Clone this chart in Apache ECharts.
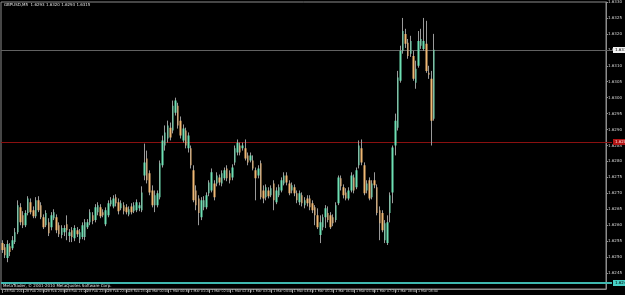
<!DOCTYPE html>
<html><head><meta charset="utf-8">
<script src="https://cdn.jsdelivr.net/npm/echarts@6/dist/echarts.min.js"></script>
<style>html,body{margin:0;padding:0;background:#000;overflow:hidden}#c{width:625px;height:295px}</style>
</head><body><div id="c"></div>
<script>
const headerText = 'GBPUSD,M5  1.6293 1.6320 1.6293 1.6315';
const copyrightText = 'MetaTrader, \u00a9 2001-2010 MetaQuotes Software Corp.';
const tickLabels = ['28 Feb 2011','28 Feb 20:00','28 Feb 20:40','28 Feb 21:20','28 Feb 22:00','28 Feb 22:40','28 Feb 23:20','1 Mar 00:00','1 Mar 00:40','1 Mar 01:20','1 Mar 02:00','1 Mar 02:40','1 Mar 03:20','1 Mar 04:00','1 Mar 04:40','1 Mar 05:20','1 Mar 06:00','1 Mar 06:40','1 Mar 07:20','1 Mar 08:00','1 Mar 08:40'];
const barsPerLabel = 8;
const slotCount = 234;
// [open, close, low, high]
const ohlc = [
[1.62544,1.62522,1.62513,1.62553],[1.62531,1.62506,1.62497,1.62541],[1.62497,1.62541,1.62484,1.62553],[1.62534,1.62516,1.62503,1.62544],
[1.62528,1.62553,1.62522,1.62566],[1.62547,1.62578,1.62541,1.62591],[1.62578,1.62663,1.62572,1.62678],[1.62656,1.62609,1.62600,1.62669],
[1.62631,1.62600,1.62591,1.62644],[1.62600,1.62638,1.62594,1.62647],[1.62638,1.62684,1.62631,1.62691],[1.62672,1.62641,1.62634,1.62684],
[1.62647,1.62628,1.62622,1.62659],[1.62628,1.62678,1.62622,1.62688],[1.62678,1.62647,1.62641,1.62691],[1.62663,1.62625,1.62619,1.62672],
[1.62625,1.62594,1.62588,1.62634],[1.62600,1.62638,1.62594,1.62647],[1.62609,1.62575,1.62566,1.62622],[1.62594,1.62631,1.62584,1.62641],
[1.62622,1.62641,1.62616,1.62650],[1.62625,1.62584,1.62575,1.62634],[1.62600,1.62572,1.62563,1.62609],[1.62569,1.62591,1.62559,1.62600],
[1.62578,1.62591,1.62566,1.62600],[1.62603,1.62584,1.62553,1.62631],[1.62566,1.62578,1.62547,1.62588],[1.62584,1.62563,1.62547,1.62594],
[1.62559,1.62591,1.62550,1.62600],[1.62584,1.62572,1.62563,1.62594],[1.62556,1.62578,1.62544,1.62588],[1.62563,1.62600,1.62556,1.62609],
[1.62563,1.62609,1.62553,1.62619],[1.62594,1.62609,1.62588,1.62619],[1.62609,1.62641,1.62600,1.62650],[1.62631,1.62613,1.62603,1.62641],
[1.62616,1.62656,1.62609,1.62666],[1.62641,1.62663,1.62631,1.62672],[1.62656,1.62628,1.62622,1.62666],[1.62641,1.62631,1.62625,1.62650],
[1.62603,1.62647,1.62597,1.62656],[1.62631,1.62669,1.62625,1.62678],[1.62666,1.62678,1.62659,1.62688],[1.62659,1.62684,1.62653,1.62694],
[1.62688,1.62669,1.62659,1.62697],[1.62672,1.62644,1.62634,1.62684],[1.62653,1.62669,1.62647,1.62678],[1.62663,1.62644,1.62634,1.62672],
[1.62656,1.62641,1.62634,1.62666],[1.62634,1.62650,1.62628,1.62659],[1.62659,1.62641,1.62634,1.62669],[1.62644,1.62663,1.62638,1.62672],
[1.62647,1.62672,1.62641,1.62681],[1.62653,1.62663,1.62644,1.62672],[1.62647,1.62703,1.62641,1.62722],[1.62756,1.62797,1.62741,1.62856],
[1.62809,1.62741,1.62731,1.62834],[1.62763,1.62703,1.62694,1.62772],[1.62709,1.62663,1.62656,1.62725],[1.62663,1.62694,1.62641,1.62709],
[1.62663,1.62700,1.62656,1.62709],[1.62688,1.62794,1.62681,1.62803],[1.62788,1.62866,1.62781,1.62881],[1.62850,1.62891,1.62834,1.62913],
[1.62872,1.62913,1.62859,1.62928],[1.62906,1.62875,1.62866,1.62922],[1.62897,1.62975,1.62888,1.62991],[1.62953,1.62991,1.62944,1.63000],
[1.62975,1.62913,1.62903,1.62984],[1.62928,1.62881,1.62872,1.62941],[1.62866,1.62903,1.62859,1.62916],[1.62897,1.62850,1.62841,1.62906],
[1.62841,1.62881,1.62828,1.62891],[1.62841,1.62788,1.62778,1.62850],[1.62772,1.62678,1.62672,1.62788],[1.62709,1.62663,1.62647,1.62725],
[1.62684,1.62638,1.62600,1.62694],[1.62625,1.62678,1.62616,1.62688],[1.62656,1.62678,1.62647,1.62691],[1.62656,1.62694,1.62650,1.62703],
[1.62700,1.62734,1.62691,1.62741],[1.62709,1.62766,1.62703,1.62778],[1.62731,1.62688,1.62678,1.62741],[1.62731,1.62756,1.62722,1.62766],
[1.62750,1.62734,1.62725,1.62759],[1.62731,1.62763,1.62722,1.62772],[1.62747,1.62772,1.62741,1.62781],[1.62778,1.62747,1.62738,1.62788],
[1.62763,1.62741,1.62731,1.62772],[1.62750,1.62781,1.62741,1.62791],[1.62797,1.62841,1.62788,1.62850],[1.62828,1.62859,1.62819,1.62869],
[1.62850,1.62828,1.62819,1.62859],[1.62841,1.62850,1.62834,1.62859],[1.62841,1.62809,1.62803,1.62869],[1.62819,1.62797,1.62788,1.62828],
[1.62803,1.62819,1.62797,1.62828],[1.62803,1.62778,1.62772,1.62819],[1.62772,1.62747,1.62678,1.62781],[1.62756,1.62778,1.62747,1.62788],
[1.62794,1.62688,1.62681,1.62803],[1.62709,1.62684,1.62669,1.62725],[1.62688,1.62719,1.62678,1.62728],[1.62709,1.62691,1.62684,1.62719],
[1.62694,1.62716,1.62688,1.62725],[1.62731,1.62678,1.62647,1.62741],[1.62672,1.62709,1.62666,1.62719],[1.62694,1.62719,1.62688,1.62728],
[1.62709,1.62741,1.62703,1.62750],[1.62731,1.62756,1.62725,1.62766],[1.62756,1.62734,1.62725,1.62766],[1.62731,1.62700,1.62694,1.62741],
[1.62709,1.62725,1.62700,1.62734],[1.62719,1.62700,1.62691,1.62728],[1.62700,1.62678,1.62669,1.62709],[1.62672,1.62700,1.62663,1.62709],
[1.62694,1.62669,1.62659,1.62703],[1.62663,1.62678,1.62653,1.62688],[1.62684,1.62669,1.62659,1.62694],[1.62684,1.62656,1.62647,1.62694],
[1.62669,1.62647,1.62638,1.62678],[1.62656,1.62631,1.62600,1.62663],[1.62631,1.62594,1.62588,1.62653],[1.62569,1.62609,1.62544,1.62631],
[1.62594,1.62625,1.62584,1.62634],[1.62625,1.62653,1.62591,1.62663],[1.62638,1.62616,1.62609,1.62659],[1.62631,1.62594,1.62588,1.62641],
[1.62625,1.62606,1.62597,1.62634],[1.62616,1.62663,1.62609,1.62672],[1.62669,1.62750,1.62663,1.62756],[1.62747,1.62722,1.62709,1.62756],
[1.62719,1.62694,1.62684,1.62728],[1.62703,1.62684,1.62678,1.62716],[1.62684,1.62709,1.62678,1.62719],[1.62709,1.62756,1.62703,1.62766],
[1.62750,1.62709,1.62700,1.62759],[1.62719,1.62772,1.62713,1.62781],[1.62788,1.62850,1.62778,1.62866],[1.62841,1.62797,1.62788,1.62869],
[1.62788,1.62700,1.62694,1.62797],[1.62709,1.62731,1.62700,1.62741],[1.62741,1.62684,1.62678,1.62750],[1.62688,1.62731,1.62681,1.62741],
[1.62741,1.62725,1.62716,1.62766],[1.62719,1.62638,1.62631,1.62728],[1.62647,1.62606,1.62553,1.62659],[1.62638,1.62584,1.62578,1.62647],
[1.62553,1.62606,1.62544,1.62616],[1.62544,1.62609,1.62538,1.62631],[1.62638,1.62694,1.62609,1.62703],[1.62703,1.62844,1.62669,1.62850],
[1.62850,1.62928,1.62819,1.62950],[1.62906,1.63063,1.62897,1.63084],[1.63053,1.63147,1.63047,1.63163],[1.63147,1.63209,1.63138,1.63250],
[1.63200,1.63169,1.63156,1.63216],[1.63172,1.63131,1.63122,1.63184],[1.63138,1.63178,1.63128,1.63194],[1.63131,1.63059,1.63053,1.63147],
[1.63047,1.63091,1.63028,1.63116],[1.63100,1.63178,1.63094,1.63209],[1.63163,1.63184,1.63153,1.63216],[1.63153,1.63178,1.63147,1.63250],
[1.63169,1.63084,1.63078,1.63241],[1.63078,1.63072,1.63059,1.63100],[1.63059,1.62928,1.62850,1.63084],[1.62934,1.63150,1.62928,1.63200]
];
const levelValues = [1.6315, 1.6286, 1.6242];
const yMin = 1.6240, yMax = 1.6330, yStep = 0.0005;

const categories = [];
for (let i = 0; i < slotCount; i++) categories.push(String(i));

const bullColor = '#6ee0b4';
const bearColor = '#efb874';
const wickColor = '#9a9a9a';
const frameColor = '#8c8c8c';
const fontFam = 'Tahoma, "DejaVu Sans", sans-serif';
const levelStyles = [
  {line: '#626262', h: 1, bg: '#f2f2f2', fg: '#000'},
  {line: '#8a1010', h: 1, bg: '#b01414', fg: '#ffd8d8'},
  {line: '#3fb8b0', h: 2, bg: '#48d0c6', fg: '#000'}
];
const gridBox = {left: 1, right: 13, top: 1, bottom: 6};

const chart = echarts.init(document.getElementById('c'), null, {renderer: 'canvas'});
chart.setOption({
  animation: false,
  backgroundColor: '#000',
  grid: Object.assign({show: true, borderColor: frameColor, borderWidth: 1, backgroundColor: '#000'}, gridBox),
  xAxis: {
    type: 'category', data: categories, boundaryGap: true,
    axisLine: {show: true, lineStyle: {color: frameColor, width: 1}},
    axisTick: {show: true, alignWithLabel: true, length: 4, lineStyle: {color: frameColor},
      interval: (idx) => idx % barsPerLabel === 0 && idx / barsPerLabel < tickLabels.length},
    axisLabel: {show: true, align: 'left', margin: 1, padding: [0, 0, 0, 2], color: '#d8d8d8', fontSize: 3.3, fontFamily: fontFam,
      hideOverlap: false,
      interval: (idx) => idx % barsPerLabel === 0 && idx / barsPerLabel < tickLabels.length,
      formatter: (v, idx) => tickLabels[idx / barsPerLabel] || ''},
    splitLine: {show: false}
  },
  yAxis: {
    type: 'value', position: 'right', min: yMin, max: yMax, interval: yStep,
    axisLine: {show: true, lineStyle: {color: frameColor}},
    axisTick: {show: true, length: 2, lineStyle: {color: frameColor}},
    axisLabel: {show: true, margin: 2, color: '#d8d8d8', fontSize: 4, fontFamily: fontFam, showMinLabel: false,
      formatter: v => v.toFixed(4)},
    splitLine: {show: false}
  },
  series: [
    {
      type: 'candlestick', name: 'wick', data: ohlc, barWidth: 1, z: 3,
      itemStyle: {color: wickColor, color0: wickColor, borderColor: wickColor, borderColor0: wickColor, borderWidth: 1},
      silent: true
    },
    {
      type: 'candlestick', name: 'body', data: ohlc, barWidth: 2, z: 4,
      itemStyle: {color: bullColor, color0: bearColor, borderColor: bullColor, borderColor0: bearColor, borderWidth: 0},
      silent: true
    }
  ]
});

// horizontal level lines, positioned through the y axis scale
const W = chart.getWidth();
const x0 = gridBox.left, x1 = W - gridBox.right;
const gfx = [
  {type: 'text', left: 4, top: 3, z: 10, style: {text: headerText, fill: '#e0e0e0', fontSize: 4, fontFamily: fontFam}},
  {type: 'text', left: 3, top: 284, z: 10, style: {text: copyrightText, fill: '#e0e0e0', fontSize: 4, fontFamily: fontFam}}
];
levelValues.forEach((v, k) => {
  const y = Math.round(chart.convertToPixel({yAxisIndex: 0}, v));
  const s = levelStyles[k];
  gfx.push({type: 'rect', z: 1, silent: true, shape: {x: x0, y: y - Math.floor(s.h / 2), width: x1 - x0, height: s.h},
    style: {fill: s.line, stroke: null}});
  gfx.push({type: 'text', z: 20, x: x1 + 1, y: y, silent: true,
    style: {text: v.toFixed(4), fill: s.fg, backgroundColor: s.bg, fontSize: 4, fontFamily: fontFam,
      padding: [1, 4, 1, 2], verticalAlign: 'middle', align: 'left'}});
});
chart.setOption({graphic: gfx});
</script>
</body></html>
